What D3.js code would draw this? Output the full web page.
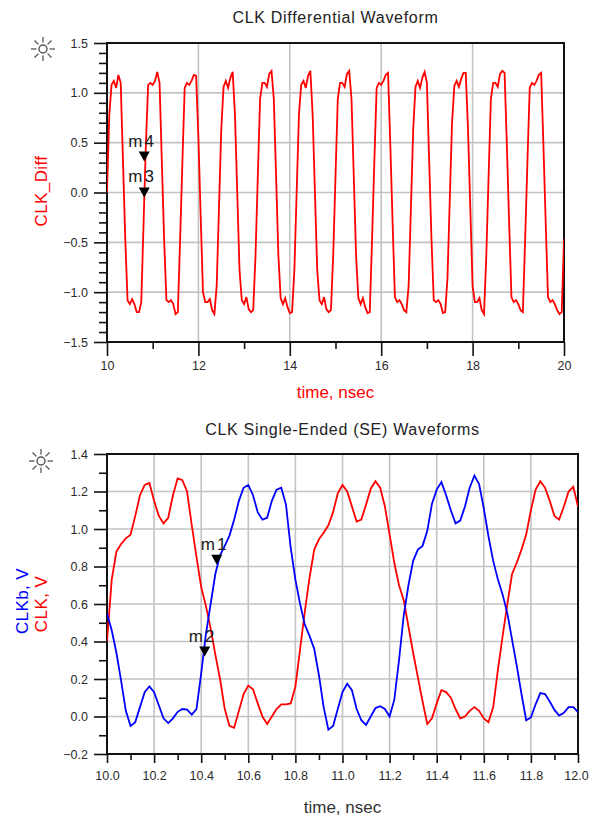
<!DOCTYPE html>
<html lang="en">
<head>
<meta charset="utf-8">
<title>CLK waveforms</title>
<script src="https://d3js.org/d3.v7.min.js"></script>
<style>
  body { margin: 0; background: #fff; }
  text { font-family: "Liberation Sans", Arial, sans-serif; }
</style>
</head>
<body>
<div id="mainDiv"></div>
<script>
const width = 589
const height = 819

// CLK_Diff, one sample every 0.05 ns from 10 to 20 ns
const diffStart = 10
const diffStep = 0.05
const clkDiff = [
  0.0, 0.78, 1.08, 1.12, 1.05, 1.18, 1.10, 0.31, -0.47, -1.08,
  -1.12, -1.07, -1.12, -1.2, -1.2, -1.10, -0.31, 0.47, 1.08, 1.10,
  1.08, 1.12, 1.21, 1.10, 0.31, -0.47, -1.08, -1.10, -1.08, -1.12,
  -1.22, -1.2, -0.47, 0.31, 1.05, 1.10, 1.08, 1.12, 1.18, 1.17,
  0.55, -0.24, -1.0, -1.10, -1.10, -1.07, -1.18, -1.22, -0.94, -0.16,
  0.63, 1.06, 1.12, 1.05, 1.15, 1.21, 0.78, 0.0, -0.78, -1.08,
  -1.12, -1.05, -1.17, -1.2, -1.18, -0.63, 0.16, 0.94, 1.10, 1.10,
  1.06, 1.19, 1.22, 0.94, 0.16, -0.63, -1.06, -1.12, -1.06, -1.15,
  -1.21, -1.2, -0.78, 0.0, 0.78, 1.08, 1.12, 1.05, 1.17, 1.22,
  0.78, 0.0, -0.78, -1.08, -1.12, -1.05, -1.17, -1.2, -1.18, -0.63,
  0.16, 0.94, 1.10, 1.10, 1.06, 1.19, 1.22, 0.94, 0.16, -0.63,
  -1.06, -1.12, -1.06, -1.15, -1.21, -1.2, -0.47, 0.31, 1.05, 1.10,
  1.08, 1.12, 1.18, 1.2, 0.47, -0.31, -1.05, -1.10, -1.08, -1.12,
  -1.18, -1.2, -0.94, -0.16, 0.63, 1.06, 1.12, 1.05, 1.15, 1.21,
  1.10, 0.31, -0.47, -1.08, -1.10, -1.08, -1.12, -1.21, -1.2, -0.86,
  -0.08, 0.7, 1.07, 1.12, 1.06, 1.14, 1.2, 1.2, 0.63, -0.16,
  -0.94, -1.10, -1.10, -1.06, -1.18, -1.22, -0.63, 0.16, 0.94, 1.10,
  1.10, 1.06, 1.19, 1.22, 1.2, 0.47, -0.31, -1.05, -1.10, -1.08,
  -1.12, -1.18, -1.2, -0.47, 0.31, 1.05, 1.10, 1.08, 1.12, 1.18,
  1.2, 0.47, -0.31, -1.05, -1.10, -1.08, -1.12, -1.18, -1.22, -1.2,
  -0.47
]
const diffMarkerNames = ['m4', 'm3']
const diffMarkerTimes = [10.815, 10.815]
const diffMarkerValues = [0.31, -0.05]
const diffXTicks = [10, 12, 14, 16, 18, 20]
const diffXMinor = [11, 13, 15, 17, 19]
const diffYTicks = [-1.5, -1.0, -0.5, 0.0, 0.5, 1.0, 1.5]

// CLK and CLKb, one sample every 0.02 ns from 10 to 12 ns
const seStart = 10
const seStep = 0.02
const clk = [
  0.40, 0.73, 0.88, 0.92, 0.95, 0.97, 1.07, 1.18, 1.235, 1.245,
  1.15, 1.07, 1.03, 1.06, 1.18, 1.27, 1.26, 1.20, 1.02, 0.85,
  0.69, 0.59, 0.47, 0.33, 0.20, 0.04, -0.05, -0.06, 0.03, 0.12,
  0.165, 0.145, 0.07, 0.0, -0.04, 0.0, 0.04, 0.065, 0.065, 0.07,
  0.16, 0.36, 0.56, 0.74, 0.89, 0.945, 0.98, 1.02, 1.09, 1.19,
  1.235, 1.20, 1.12, 1.04, 1.05, 1.13, 1.215, 1.255, 1.22, 1.12,
  0.97, 0.82, 0.70, 0.62, 0.48, 0.34, 0.21, 0.08, -0.04, -0.01,
  0.07, 0.14, 0.13, 0.10, 0.04, -0.01, 0.0, 0.03, 0.05, 0.03,
  -0.01, -0.03, 0.05, 0.25, 0.43, 0.60, 0.76, 0.82, 0.89, 0.97,
  1.10, 1.21, 1.255, 1.22, 1.15, 1.07, 1.05, 1.12, 1.20, 1.225,
  1.12
]
const clkb = [
  0.55, 0.46, 0.34, 0.19, 0.03, -0.05, -0.03, 0.05, 0.13, 0.16,
  0.13, 0.06, -0.01, -0.035, -0.01, 0.025, 0.04, 0.037, 0.01, 0.04,
  0.23, 0.44, 0.60, 0.76, 0.86, 0.91, 0.965, 1.05, 1.15, 1.22,
  1.235, 1.18, 1.09, 1.05, 1.06, 1.15, 1.21, 1.22, 1.13, 0.90,
  0.73, 0.60, 0.49, 0.43, 0.36, 0.22, 0.05, -0.07, -0.05, 0.04,
  0.13, 0.175, 0.14, 0.04, -0.02, -0.045, 0.0, 0.045, 0.055, 0.04,
  0.0, 0.09, 0.30, 0.54, 0.70, 0.83, 0.89, 0.91, 0.99, 1.135,
  1.21, 1.25, 1.18, 1.10, 1.03, 1.045, 1.12, 1.22, 1.285, 1.24,
  1.11, 0.96, 0.83, 0.73, 0.65, 0.55, 0.41, 0.27, 0.12, -0.02,
  -0.005, 0.065, 0.125, 0.12, 0.08, 0.035, 0.005, 0.02, 0.05, 0.05,
  0.023
]
const seMarkerNames = ['m1', 'm2']
const seMarkerTimes = [10.466, 10.415]
const seMarkerValues = [0.81, 0.32]
const seXTicks = [10.0, 10.2, 10.4, 10.6, 10.8, 11.0, 11.2, 11.4, 11.6, 11.8, 12.0]
const seXMinor = [10.1, 10.3, 10.5, 10.7, 10.9, 11.1, 11.3, 11.5, 11.7, 11.9]
const seYTicks = [-0.2, 0.0, 0.2, 0.4, 0.6, 0.8, 1.0, 1.2, 1.4]

const tickColor = '#2a2a2a'

const svg = d3.select('#mainDiv').append('svg')
  .attr('width', width)
  .attr('height', height)

function sun(cx, cy) {
  const g = svg.append('g').attr('transform', `translate(${cx},${cy})`)
    .attr('stroke', '#555').attr('fill', 'none')
  g.append('circle').attr('r', 4).attr('stroke-width', 1.4)
  d3.range(8).forEach(i => {
    const a = i * Math.PI / 4
    g.append('line')
      .attr('x1', Math.cos(a) * 6.5).attr('y1', Math.sin(a) * 6.5)
      .attr('x2', Math.cos(a) * 12).attr('y2', Math.sin(a) * 12)
      .attr('stroke-width', 1.3)
  })
}

function panel(cfg) {
  const g = svg.append('g')
  const x = d3.scaleLinear().domain(cfg.xDomain).range([cfg.left, cfg.right])
  const y = d3.scaleLinear().domain(cfg.yDomain).range([cfg.bottom, cfg.top])

  // grid
  g.append('g').selectAll('line').data(cfg.xTicks.slice(1, -1)).join('line')
    .attr('x1', d => x(d)).attr('x2', d => x(d))
    .attr('y1', cfg.top).attr('y2', cfg.bottom)
    .attr('stroke', '#c3c3c3').attr('stroke-width', 1.6)
  g.append('g').selectAll('line').data(cfg.yTicks.slice(1, -1)).join('line')
    .attr('y1', d => y(d)).attr('y2', d => y(d))
    .attr('x1', cfg.left).attr('x2', cfg.right)
    .attr('stroke', '#c3c3c3').attr('stroke-width', 1.6)

  // minor ticks
  const yMinor = d3.axisLeft(y).tickValues(cfg.yMinor).tickSize(8).tickFormat('')
  g.append('g').attr('transform', `translate(${cfg.left},0)`).call(yMinor)
  const xMinor = d3.axisBottom(x).tickValues(cfg.xMinor).tickSize(cfg.xMinorLen).tickFormat('')
  g.append('g').attr('transform', `translate(0,${cfg.bottom})`).call(xMinor)

  // major ticks
  const yAxis = d3.axisLeft(y).tickValues(cfg.yTicks).tickSize(13).tickPadding(6)
    .tickFormat(d3.format('.1f'))
  g.append('g').attr('transform', `translate(${cfg.left},0)`).call(yAxis)
  const xAxis = d3.axisBottom(x).tickValues(cfg.xTicks).tickSize(cfg.xMajorLen)
    .tickPadding(cfg.xPad).tickFormat(d3.format(cfg.xFormat))
  const xg = g.append('g').attr('transform', `translate(0,${cfg.bottom})`).call(xAxis)
  // last label sits at the window edge
  xg.selectAll('.tick text').filter((d, i, n) => i === n.length - 1).attr('dx', cfg.lastDx || 0)

  g.selectAll('.domain').remove()
  g.selectAll('.tick line').attr('stroke', '#111').attr('stroke-width', 1.6)
  g.selectAll('.tick text').attr('fill', tickColor).style('font-size', '12.5px')
    .style('font-family', '"Liberation Sans", Arial, sans-serif')

  // frame
  g.append('rect')
    .attr('x', cfg.left).attr('y', cfg.top)
    .attr('width', cfg.right - cfg.left).attr('height', cfg.bottom - cfg.top)
    .attr('fill', 'none').attr('stroke', '#111').attr('stroke-width', 2)

  const clipId = 'clip' + cfg.id
  svg.append('clipPath').attr('id', clipId).append('rect')
    .attr('x', cfg.left).attr('y', cfg.top - 2)
    .attr('width', cfg.right - cfg.left).attr('height', cfg.bottom - cfg.top + 4)

  cfg.series.forEach(s => {
    const line = d3.line()
      .x((d, i) => x(cfg.start + i * cfg.step))
      .y(d => y(d))
    g.append('path').datum(s.values)
      .attr('clip-path', `url(#${clipId})`)
      .attr('d', line)
      .attr('fill', 'none').attr('stroke', s.color).attr('stroke-width', 1.8)
      .attr('stroke-linejoin', 'miter')
  })

  // markers
  cfg.markers.names.forEach((name, i) => {
    const px = x(cfg.markers.times[i])
    const py = y(cfg.markers.values[i])
    g.append('path')
      .attr('d', `M${px - 5.5},${py - 10}L${px + 5.5},${py - 10}L${px},${py}Z`)
      .attr('fill', '#000')
    g.append('text').attr('x', px - 16).attr('y', py - 15)
      .attr('fill', '#1a1a1a').style('font-size', '17px').style('letter-spacing', '2px')
      .text(name)
  })

  g.append('text').attr('x', (cfg.left + cfg.right) / 2).attr('y', cfg.titleY)
    .attr('text-anchor', 'middle').attr('fill', '#222')
    .style('font-size', '16px').style('letter-spacing', '0.7px')
    .text(cfg.title)
  g.append('text').attr('x', (cfg.left + cfg.right) / 2).attr('y', cfg.xLabelY)
    .attr('text-anchor', 'middle').attr('fill', cfg.xLabelColor)
    .style('font-size', '17px')
    .text('time, nsec')
  cfg.yLabels.forEach(l => {
    g.append('text')
      .attr('transform', `translate(${l.x},${l.y}) rotate(-90)`)
      .attr('text-anchor', 'middle').attr('fill', l.color)
      .style('font-size', '17px').style('letter-spacing', '0.4px')
      .text(l.text)
  })
}

panel({
  id: 'diff', left: 107, right: 564, top: 43, bottom: 342,
  xDomain: [10, 20], yDomain: [-1.5, 1.5],
  xTicks: diffXTicks, xMinor: diffXMinor, yTicks: diffYTicks,
  yMinor: d3.range(-14, 15).filter(v => v % 5 !== 0).map(v => v / 10),
  xMajorLen: 14, xMinorLen: 7, xPad: 5, xFormat: 'd',
  start: diffStart, step: diffStep,
  series: [{ values: clkDiff, color: '#ff0000' }],
  markers: { names: diffMarkerNames, times: diffMarkerTimes, values: diffMarkerValues },
  title: 'CLK Differential Waveform', titleY: 23,
  xLabelY: 398, xLabelColor: '#ff0000',
  yLabels: [{ text: 'CLK_Diff', x: 47, y: 191, color: '#ff0000' }]
})
sun(43, 49)

panel({
  id: 'se', left: 107, right: 578, top: 454, bottom: 754,
  xDomain: [10, 12], yDomain: [-0.2, 1.4],
  xTicks: seXTicks, xMinor: seXMinor, yTicks: seYTicks,
  yMinor: d3.range(-1, 14, 2).map(v => v / 10),
  xMajorLen: 9, xMinorLen: 6, xPad: 8, xFormat: '.1f', lastDx: -2,
  start: seStart, step: seStep,
  series: [
    { values: clk, color: '#ff0000' },
    { values: clkb, color: '#0000ff' }
  ],
  markers: { names: seMarkerNames, times: seMarkerTimes, values: seMarkerValues },
  title: 'CLK Single-Ended (SE) Waveforms', titleY: 435,
  xLabelY: 813, xLabelColor: '#333',
  yLabels: [
    { text: 'CLKb, V', x: 28, y: 601, color: '#0000ff' },
    { text: 'CLK, V', x: 47, y: 604, color: '#ff0000' }
  ]
})
sun(41, 461)
</script>
</body>
</html>
